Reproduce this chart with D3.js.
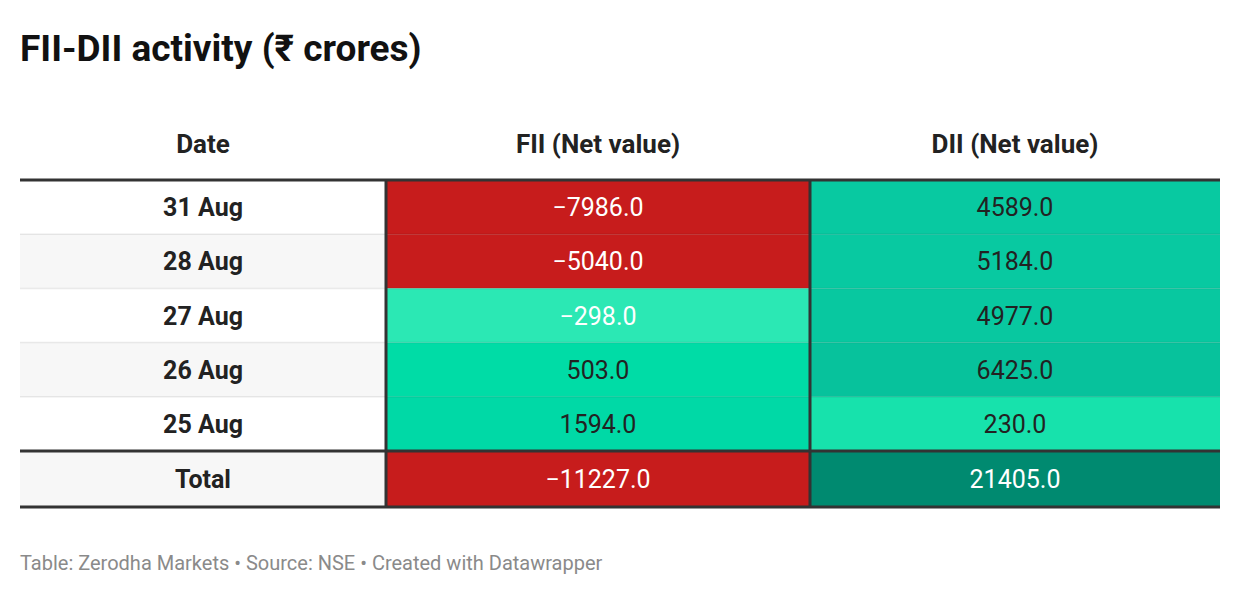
<!DOCTYPE html>
<html><head><meta charset="utf-8">
<script src="https://cdn.jsdelivr.net/npm/d3@7"></script>
<style>body{margin:0;background:#fff;font-family:Roboto,sans-serif}</style>
</head><body><svg id="chart" width="1240" height="596"></svg>
<script>
// table data
var dates = ["31 Aug", "28 Aug", "27 Aug", "26 Aug", "25 Aug", "Total"];
var fii = [-7986, -5040, -298, 503, 1594, -11227];
var dii = [4589, 5184, 4977, 6425, 230, 21405];
var fiiColors = ["#c71c1c", "#c71c1c", "#2be8b4", "#00dca6", "#00d9a6", "#c71c1c"];
var diiColors = ["#08c9a1", "#08c9a1", "#08c8a0", "#07c29c", "#17e2ac", "#008a70"];
var headers = ["Date", "FII (Net value)", "DII (Net value)"];

var svg = d3.select("#chart");
var x = d3.scaleOrdinal().domain([0, 1, 2]).range([20, 386, 810]);
var w = [366, 424, 410];
var y = d3.scaleBand().domain(d3.range(5)).range([180, 451]);
var fmt = function(v) { return (v < 0 ? "\u2212" + Math.abs(v) : "" + v) + ".0"; };

svg.append("text").attr("x", 20).attr("y", 61).attr("font-size", 37).attr("font-weight", 700)
  .attr("fill", "#111").text("FII-DII activity (\u20b9 crores)");

headers.forEach(function(h, i) {
  svg.append("text").attr("x", x(i) + w[i] / 2).attr("y", 153).attr("text-anchor", "middle")
    .attr("font-size", 26).attr("font-weight", 700).attr("fill", "#222").text(h);
});

function rowY(i) { return i < 5 ? y(i) : 451; }
function rowH(i) { return i < 5 ? y.bandwidth() : 56; }

dates.forEach(function(d, i) {
  var g = svg.append("g");
  var cells = [
    {fill: i % 2 ? "#f7f7f7" : "#fff", text: d, bold: true, color: "#222"},
    {fill: fiiColors[i], text: fmt(fii[i]), color: fii[i] < 0 ? "#fff" : "#222"},
    {fill: diiColors[i], text: fmt(dii[i]), color: i == 5 ? "#fff" : "#222"}
  ];
  if (i == 5) cells[0].fill = "#f7f7f7";
  cells.forEach(function(c, j) {
    g.append("rect").attr("x", x(j)).attr("y", rowY(i)).attr("width", w[j]).attr("height", rowH(i)).attr("fill", c.fill);
    g.append("text").attr("x", x(j) + w[j] / 2).attr("y", rowY(i) + rowH(i) / 2 + 9)
      .attr("text-anchor", "middle").attr("font-size", 25).attr("font-weight", c.bold ? 700 : 400)
      .attr("fill", c.color).text(c.text);
  });
  if (i > 0 && i < 5) svg.append("line").attr("x1", 20).attr("x2", 1220).attr("y1", rowY(i)).attr("y2", rowY(i))
    .attr("stroke", "#000").attr("stroke-opacity", 0.08).attr("stroke-width", 1.5);
});

[386, 810].forEach(function(v) {
  svg.append("line").attr("x1", v).attr("x2", v).attr("y1", 180).attr("y2", 507).attr("stroke", "#333").attr("stroke-width", 3);
});
[180, 451, 507].forEach(function(v) {
  svg.append("line").attr("x1", 20).attr("x2", 1220).attr("y1", v).attr("y2", v).attr("stroke", "#333").attr("stroke-width", 3);
});

svg.append("text").attr("x", 20).attr("y", 570).attr("font-size", 20).attr("fill", "#8a8a8a")
  .text("Table: Zerodha Markets \u2022 Source: NSE \u2022 Created with Datawrapper");
</script></body></html>
